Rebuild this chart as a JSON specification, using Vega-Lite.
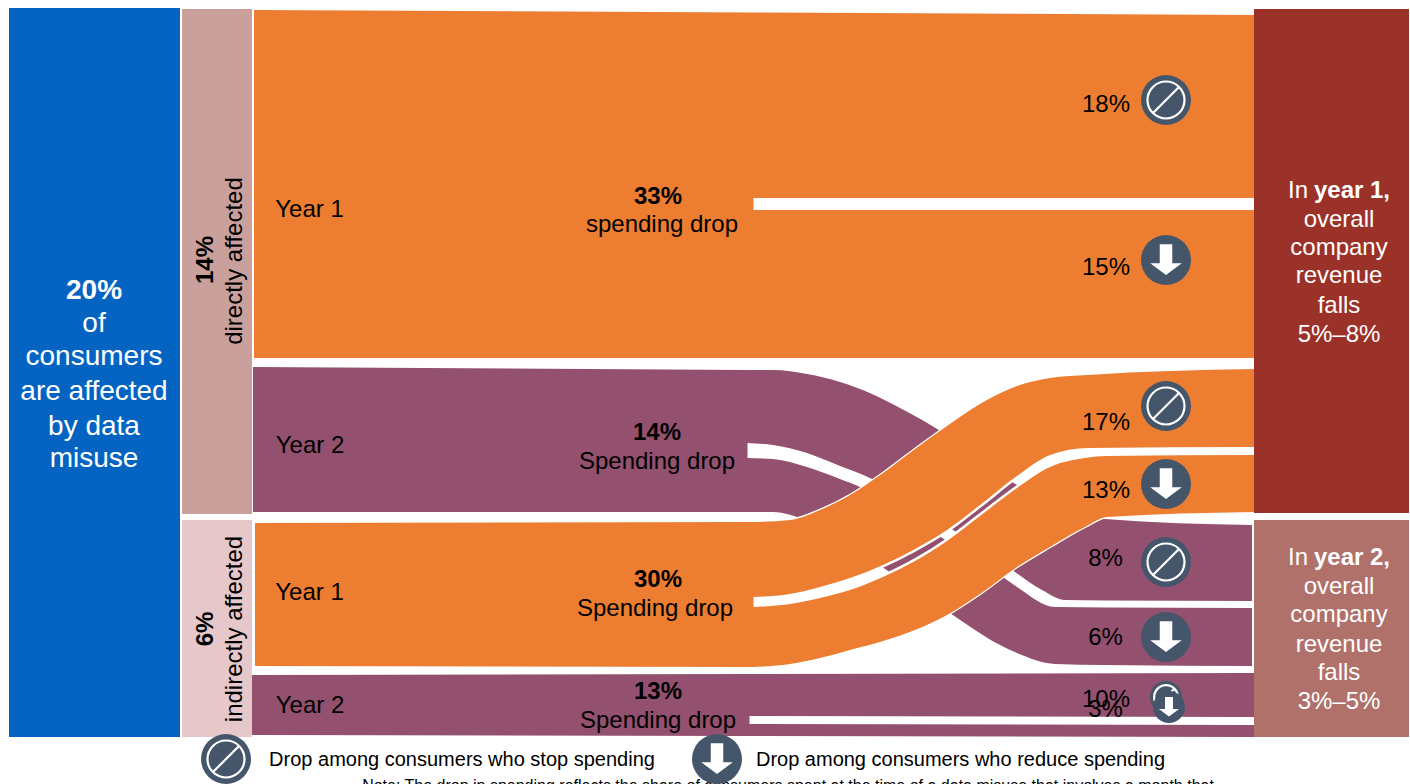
{
  "$schema": "https://vega.github.io/schema/vega-lite/v6.json",
  "width": 1410,
  "height": 784,
  "padding": 0,
  "autosize": {"type": "none"},
  "background": "white",
  "view": {"stroke": null},
  "datasets": {
    "nodes": [
      {"name": "All consumers", "x": 9, "x2": 180, "y": 8, "y2": 737},
      {"name": "Directly affected", "x": 182, "x2": 252, "y": 9, "y2": 514},
      {"name": "Indirectly affected", "x": 182, "x2": 252, "y": 520, "y2": 737},
      {"name": "Year 1 revenue", "x": 1254, "x2": 1409, "y": 9, "y2": 513},
      {"name": "Year 2 revenue", "x": 1254, "x2": 1409, "y": 520, "y2": 737}
    ],
    "flows": [
      {"band": "d1-stem", "year": "Year 1", "x": 254, "top": 10, "bottom": 358},
      {"band": "d1-stem", "year": "Year 1", "x": 753.5, "top": 12.5, "bottom": 358},
      {"band": "d1-stop", "year": "Year 1", "x": 753, "top": 12.5, "bottom": 198},
      {"band": "d1-stop", "year": "Year 1", "x": 1254, "top": 15, "bottom": 198},
      {"band": "d1-reduce", "year": "Year 1", "x": 753, "top": 210, "bottom": 358},
      {"band": "d1-reduce", "year": "Year 1", "x": 1254, "top": 210, "bottom": 358},

      {"band": "d2-stem", "year": "Year 2", "x": 253, "top": 367, "bottom": 512},
      {"band": "d2-stem", "year": "Year 2", "x": 747.5, "top": 370, "bottom": 512},
      {"band": "d2-stop", "year": "Year 2", "x": 747, "top": 370, "bottom": 443},
      {"band": "d2-stop", "year": "Year 2", "x": 773, "top": 370, "bottom": 445},
      {"band": "d2-stop", "year": "Year 2", "x": 807, "top": 374, "bottom": 453},
      {"band": "d2-stop", "year": "Year 2", "x": 840, "top": 382, "bottom": 466},
      {"band": "d2-stop", "year": "Year 2", "x": 872, "top": 394, "bottom": 479},
      {"band": "d2-stop", "year": "Year 2", "x": 900, "top": 408, "bottom": 497},
      {"band": "d2-stop", "year": "Year 2", "x": 947, "top": 435, "bottom": 526},
      {"band": "d2-stop", "year": "Year 2", "x": 980, "top": 458, "bottom": 548},
      {"band": "d2-stop", "year": "Year 2", "x": 1012, "top": 482, "bottom": 570},
      {"band": "d2-stop", "year": "Year 2", "x": 1042, "top": 498, "bottom": 590},
      {"band": "d2-stop", "year": "Year 2", "x": 1065, "top": 510, "bottom": 600},
      {"band": "d2-stop", "year": "Year 2", "x": 1105, "top": 519, "bottom": 600.5},
      {"band": "d2-stop", "year": "Year 2", "x": 1252, "top": 525, "bottom": 601},
      {"band": "d2-reduce", "year": "Year 2", "x": 747, "top": 458, "bottom": 512},
      {"band": "d2-reduce", "year": "Year 2", "x": 773, "top": 459, "bottom": 512},
      {"band": "d2-reduce", "year": "Year 2", "x": 807, "top": 467, "bottom": 521},
      {"band": "d2-reduce", "year": "Year 2", "x": 840, "top": 479, "bottom": 539},
      {"band": "d2-reduce", "year": "Year 2", "x": 860, "top": 487, "bottom": 552},
      {"band": "d2-reduce", "year": "Year 2", "x": 900, "top": 511, "bottom": 579},
      {"band": "d2-reduce", "year": "Year 2", "x": 947, "top": 541, "bottom": 611},
      {"band": "d2-reduce", "year": "Year 2", "x": 1000, "top": 575, "bottom": 645},
      {"band": "d2-reduce", "year": "Year 2", "x": 1017, "top": 587, "bottom": 653},
      {"band": "d2-reduce", "year": "Year 2", "x": 1055, "top": 607, "bottom": 664},
      {"band": "d2-reduce", "year": "Year 2", "x": 1105, "top": 607.5, "bottom": 665},
      {"band": "d2-reduce", "year": "Year 2", "x": 1252, "top": 608, "bottom": 666},

      {"band": "i1-stem", "year": "Year 1", "x": 255, "top": 523, "bottom": 666},
      {"band": "i1-stem", "year": "Year 1", "x": 753.5, "top": 522, "bottom": 667},
      {"band": "i1-stop", "year": "Year 1", "x": 753, "top": 522, "bottom": 597},
      {"band": "i1-stop", "year": "Year 1", "x": 790, "top": 520, "bottom": 594},
      {"band": "i1-stop", "year": "Year 1", "x": 820, "top": 510, "bottom": 587},
      {"band": "i1-stop", "year": "Year 1", "x": 850, "top": 495, "bottom": 578},
      {"band": "i1-stop", "year": "Year 1", "x": 883, "top": 473, "bottom": 565},
      {"band": "i1-stop", "year": "Year 1", "x": 915, "top": 449, "bottom": 549},
      {"band": "i1-stop", "year": "Year 1", "x": 947, "top": 426, "bottom": 530},
      {"band": "i1-stop", "year": "Year 1", "x": 980, "top": 404, "bottom": 505},
      {"band": "i1-stop", "year": "Year 1", "x": 1017, "top": 386, "bottom": 476},
      {"band": "i1-stop", "year": "Year 1", "x": 1050, "top": 378, "bottom": 455},
      {"band": "i1-stop", "year": "Year 1", "x": 1088, "top": 375, "bottom": 448},
      {"band": "i1-stop", "year": "Year 1", "x": 1254, "top": 369, "bottom": 447},
      {"band": "i1-reduce", "year": "Year 1", "x": 753, "top": 607, "bottom": 667},
      {"band": "i1-reduce", "year": "Year 1", "x": 790, "top": 604, "bottom": 664},
      {"band": "i1-reduce", "year": "Year 1", "x": 820, "top": 598, "bottom": 658},
      {"band": "i1-reduce", "year": "Year 1", "x": 850, "top": 590, "bottom": 650},
      {"band": "i1-reduce", "year": "Year 1", "x": 883, "top": 577, "bottom": 641},
      {"band": "i1-reduce", "year": "Year 1", "x": 915, "top": 561, "bottom": 630},
      {"band": "i1-reduce", "year": "Year 1", "x": 947, "top": 541, "bottom": 615},
      {"band": "i1-reduce", "year": "Year 1", "x": 980, "top": 516, "bottom": 594},
      {"band": "i1-reduce", "year": "Year 1", "x": 1017, "top": 488, "bottom": 567},
      {"band": "i1-reduce", "year": "Year 1", "x": 1050, "top": 467, "bottom": 547},
      {"band": "i1-reduce", "year": "Year 1", "x": 1085, "top": 458, "bottom": 527},
      {"band": "i1-reduce", "year": "Year 1", "x": 1107, "top": 456, "bottom": 517},
      {"band": "i1-reduce", "year": "Year 1", "x": 1254, "top": 455, "bottom": 512},

      {"band": "i2-stem", "year": "Year 2", "x": 252, "top": 675, "bottom": 735},
      {"band": "i2-stem", "year": "Year 2", "x": 749.5, "top": 674, "bottom": 736},
      {"band": "i2-stop", "year": "Year 2", "x": 749, "top": 674, "bottom": 716},
      {"band": "i2-stop", "year": "Year 2", "x": 1254, "top": 673, "bottom": 717},
      {"band": "i2-reduce", "year": "Year 2", "x": 749, "top": 724, "bottom": 736},
      {"band": "i2-reduce", "year": "Year 2", "x": 1254, "top": 725, "bottom": 737}
    ],
    "icons": [
      {"kind": "stop", "tier": "full", "x": 1166, "y": 100},
      {"kind": "reduce", "tier": "full", "x": 1166, "y": 260},
      {"kind": "stop", "tier": "full", "x": 1166, "y": 406},
      {"kind": "reduce", "tier": "full", "x": 1166, "y": 484},
      {"kind": "stop", "tier": "full", "x": 1166, "y": 562},
      {"kind": "reduce", "tier": "full", "x": 1166, "y": 637},
      {"kind": "stop", "tier": "small", "x": 1166, "y": 697},
      {"kind": "reduce", "tier": "small", "x": 1169, "y": 707},
      {"kind": "stop", "tier": "full", "x": 226, "y": 759},
      {"kind": "reduce", "tier": "full", "x": 717, "y": 759}
    ],
    "labels": [
      {"text": "20%", "role": "headline", "weight": "bold", "x": 94, "y": 299},
      {"text": "of", "role": "headline", "weight": "normal", "x": 94, "y": 332},
      {"text": "consumers", "role": "headline", "weight": "normal", "x": 94, "y": 365},
      {"text": "are affected", "role": "headline", "weight": "normal", "x": 94, "y": 400},
      {"text": "by data", "role": "headline", "weight": "normal", "x": 94, "y": 435},
      {"text": "misuse", "role": "headline", "weight": "normal", "x": 94, "y": 467},

      {"text": "14%", "role": "side", "weight": "bold", "x": 213, "y": 260},
      {"text": "directly affected", "role": "side", "weight": "normal", "x": 242, "y": 261},
      {"text": "6%", "role": "side", "weight": "bold", "x": 213, "y": 629},
      {"text": "indirectly affected", "role": "side", "weight": "normal", "x": 242, "y": 629},

      {"text": "Year 1", "role": "flow", "weight": "normal", "x": 309.5, "y": 217},
      {"text": "Year 2", "role": "flow", "weight": "normal", "x": 310, "y": 453},
      {"text": "Year 1", "role": "flow", "weight": "normal", "x": 309.5, "y": 600},
      {"text": "Year 2", "role": "flow", "weight": "normal", "x": 310, "y": 713},

      {"text": "33%", "role": "flow", "weight": "bold", "x": 658, "y": 204},
      {"text": "spending drop", "role": "flow", "weight": "normal", "x": 662, "y": 232},
      {"text": "14%", "role": "flow", "weight": "bold", "x": 657, "y": 440},
      {"text": "Spending drop", "role": "flow", "weight": "normal", "x": 657, "y": 469},
      {"text": "30%", "role": "flow", "weight": "bold", "x": 658, "y": 587},
      {"text": "Spending drop", "role": "flow", "weight": "normal", "x": 655, "y": 616},
      {"text": "13%", "role": "flow", "weight": "bold", "x": 658, "y": 699},
      {"text": "Spending drop", "role": "flow", "weight": "normal", "x": 658, "y": 728},

      {"text": "18%", "role": "flow", "weight": "normal", "x": 1106, "y": 112},
      {"text": "15%", "role": "flow", "weight": "normal", "x": 1106, "y": 275},
      {"text": "17%", "role": "flow", "weight": "normal", "x": 1106, "y": 430},
      {"text": "13%", "role": "flow", "weight": "normal", "x": 1106, "y": 498},
      {"text": "8%", "role": "flow", "weight": "normal", "x": 1105.5, "y": 566},
      {"text": "6%", "role": "flow", "weight": "normal", "x": 1105.5, "y": 645},
      {"text": "10%", "role": "flow", "weight": "normal", "x": 1106, "y": 707},
      {"text": "3%", "role": "flow", "weight": "normal", "x": 1105.5, "y": 717},

      {"text": "In", "role": "node", "weight": "normal", "x": 1298, "y": 198},
      {"text": "year 1,", "role": "node", "weight": "bold", "x": 1352, "y": 198},
      {"text": "overall", "role": "node", "weight": "normal", "x": 1339, "y": 227},
      {"text": "company", "role": "node", "weight": "normal", "x": 1339, "y": 255},
      {"text": "revenue", "role": "node", "weight": "normal", "x": 1339, "y": 283},
      {"text": "falls", "role": "node", "weight": "normal", "x": 1339, "y": 313},
      {"text": "5%–8%", "role": "node", "weight": "normal", "x": 1339, "y": 342},

      {"text": "In", "role": "node", "weight": "normal", "x": 1298, "y": 565},
      {"text": "year 2,", "role": "node", "weight": "bold", "x": 1352, "y": 565},
      {"text": "overall", "role": "node", "weight": "normal", "x": 1339, "y": 594},
      {"text": "company", "role": "node", "weight": "normal", "x": 1339, "y": 622},
      {"text": "revenue", "role": "node", "weight": "normal", "x": 1339, "y": 652},
      {"text": "falls", "role": "node", "weight": "normal", "x": 1339, "y": 680},
      {"text": "3%–5%", "role": "node", "weight": "normal", "x": 1339, "y": 709},

      {"text": "Drop among consumers who stop spending", "role": "legend", "weight": "normal", "x": 462, "y": 766},
      {"text": "Drop among consumers who reduce spending", "role": "legend", "weight": "normal", "x": 960.5, "y": 766},
      {"text": "Note: The drop in spending reflects the share of consumers spent at the time of a data misuse that involves a month that", "role": "note", "weight": "normal", "x": 788, "y": 791}
    ]
  },
  "encoding": {
    "x": {"field": "x", "type": "quantitative", "axis": null, "scale": {"domain": [0, 1410], "nice": false, "zero": false}}
  },
  "layer": [
    {
      "data": {"name": "flows"},
      "transform": [{"filter": "datum.year === 'Year 2'"}],
      "mark": {"type": "area", "orient": "vertical", "interpolate": "monotone", "color": "#93506F", "opacity": 1},
      "encoding": {
        "y": {"field": "top", "type": "quantitative", "axis": null, "scale": {"domain": [784, 0], "nice": false, "zero": false}},
        "y2": {"field": "bottom"},
        "detail": {"field": "band"}
      }
    },
    {
      "data": {"name": "flows"},
      "transform": [{"filter": "datum.band === 'i1-stop'"}],
      "mark": {"type": "line", "interpolate": "monotone", "color": "white", "strokeWidth": 5},
      "encoding": {"y": {"field": "bottom", "type": "quantitative"}}
    },
    {
      "data": {"name": "flows"},
      "transform": [{"filter": "datum.band === 'i1-reduce'"}],
      "mark": {"type": "line", "interpolate": "monotone", "color": "white", "strokeWidth": 5},
      "encoding": {"y": {"field": "top", "type": "quantitative"}}
    },
    {
      "data": {"name": "flows"},
      "transform": [{"filter": "datum.band === 'i1-stop'"}],
      "mark": {"type": "line", "interpolate": "monotone", "color": "white", "strokeWidth": 2.5},
      "encoding": {"y": {"field": "top", "type": "quantitative"}}
    },
    {
      "data": {"name": "flows"},
      "transform": [{"filter": "datum.band === 'i1-reduce'"}],
      "mark": {"type": "line", "interpolate": "monotone", "color": "white", "strokeWidth": 2.5},
      "encoding": {"y": {"field": "bottom", "type": "quantitative"}}
    },
    {
      "data": {"name": "flows"},
      "transform": [{"filter": "datum.year === 'Year 1'"}],
      "mark": {"type": "area", "orient": "vertical", "interpolate": "monotone", "color": "#ED7D31", "opacity": 1},
      "encoding": {
        "y": {"field": "top", "type": "quantitative"},
        "y2": {"field": "bottom"},
        "detail": {"field": "band"}
      }
    },
    {
      "data": {"name": "nodes"},
      "mark": {"type": "rect"},
      "encoding": {
        "x2": {"field": "x2"},
        "y": {"field": "y", "type": "quantitative"},
        "y2": {"field": "y2"},
        "color": {
          "field": "name",
          "type": "nominal",
          "legend": null,
          "scale": {
            "domain": ["All consumers", "Directly affected", "Indirectly affected", "Year 1 revenue", "Year 2 revenue"],
            "range": ["#0563C1", "#CAA09C", "#E6C8CA", "#9B3229", "#B0716B"]
          }
        }
      }
    },
    {
      "data": {"name": "labels"},
      "transform": [{"filter": "datum.role === 'note'"}],
      "mark": {"type": "text", "font": "Liberation Sans", "fontSize": 16, "color": "black", "baseline": "alphabetic"},
      "encoding": {"y": {"field": "y", "type": "quantitative"}, "text": {"field": "text"}}
    },
    {
      "data": {"name": "icons"},
      "transform": [{"filter": "datum.kind === 'stop'"}],
      "mark": {"type": "point", "shape": "circle", "filled": true, "color": "#45566B", "opacity": 1, "strokeWidth": 0},
      "encoding": {
        "y": {"field": "y", "type": "quantitative"},
        "size": {"field": "tier", "type": "nominal", "legend": null, "scale": {"type": "ordinal", "domain": ["full", "small"], "range": [2500, 1024]}}
      }
    },
    {
      "data": {"name": "icons"},
      "transform": [{"filter": "datum.kind === 'stop'"}],
      "mark": {
        "type": "point",
        "shape": "M-0.74,0A0.74,0.74 0 1 1 0.74,0A0.74,0.74 0 1 1 -0.74,0ZM-0.52,0.52L0.52,-0.52",
        "filled": false,
        "stroke": "white",
        "strokeWidth": 2.2,
        "opacity": 1
      },
      "encoding": {
        "y": {"field": "y", "type": "quantitative"},
        "size": {"field": "tier", "type": "nominal", "legend": null, "scale": {"type": "ordinal", "domain": ["full", "small"], "range": [2500, 1024]}}
      }
    },
    {
      "data": {"name": "icons"},
      "transform": [{"filter": "datum.kind === 'reduce'"}],
      "mark": {"type": "point", "shape": "circle", "filled": true, "color": "#45566B", "opacity": 1, "strokeWidth": 0},
      "encoding": {
        "y": {"field": "y", "type": "quantitative"},
        "size": {"field": "tier", "type": "nominal", "legend": null, "scale": {"type": "ordinal", "domain": ["full", "small"], "range": [2500, 1024]}}
      }
    },
    {
      "data": {"name": "icons"},
      "transform": [{"filter": "datum.kind === 'reduce'"}],
      "mark": {
        "type": "point",
        "shape": "M-0.25,-0.63L0.25,-0.63L0.25,0.13L0.63,0.13L0,0.6L-0.63,0.13L-0.25,0.13Z",
        "filled": true,
        "color": "white",
        "opacity": 1,
        "strokeWidth": 0
      },
      "encoding": {
        "y": {"field": "y", "type": "quantitative"},
        "size": {"field": "tier", "type": "nominal", "legend": null, "scale": {"type": "ordinal", "domain": ["full", "small"], "range": [2500, 1024]}}
      }
    },
    {
      "data": {"name": "labels"},
      "transform": [{"filter": "datum.role !== 'side' && datum.role !== 'note' && datum.weight === 'normal'"}],
      "mark": {"type": "text", "font": "Liberation Sans", "baseline": "alphabetic"},
      "encoding": {
        "y": {"field": "y", "type": "quantitative"},
        "text": {"field": "text"},
        "size": {"field": "role", "type": "nominal", "legend": null, "scale": {"type": "ordinal", "domain": ["headline", "flow", "node", "legend"], "range": [28, 24, 24, 20]}},
        "color": {"field": "role", "type": "nominal", "legend": null, "scale": {"domain": ["headline", "flow", "node", "legend"], "range": ["white", "black", "white", "black"]}}
      }
    },
    {
      "data": {"name": "labels"},
      "transform": [{"filter": "datum.role !== 'side' && datum.weight === 'bold'"}],
      "mark": {"type": "text", "font": "Liberation Sans", "fontWeight": "bold", "baseline": "alphabetic"},
      "encoding": {
        "y": {"field": "y", "type": "quantitative"},
        "text": {"field": "text"},
        "size": {"field": "role", "type": "nominal", "legend": null, "scale": {"type": "ordinal", "domain": ["headline", "flow", "node", "legend"], "range": [28, 24, 24, 20]}},
        "color": {"field": "role", "type": "nominal", "legend": null, "scale": {"domain": ["headline", "flow", "node", "legend"], "range": ["white", "black", "white", "black"]}}
      }
    },
    {
      "data": {"name": "labels"},
      "transform": [{"filter": "datum.role === 'side' && datum.weight === 'normal'"}],
      "mark": {"type": "text", "font": "Liberation Sans", "fontSize": 24, "angle": 270, "color": "black", "baseline": "alphabetic"},
      "encoding": {"y": {"field": "y", "type": "quantitative"}, "text": {"field": "text"}}
    },
    {
      "data": {"name": "labels"},
      "transform": [{"filter": "datum.role === 'side' && datum.weight === 'bold'"}],
      "mark": {"type": "text", "font": "Liberation Sans", "fontWeight": "bold", "fontSize": 24, "angle": 270, "color": "black", "baseline": "alphabetic"},
      "encoding": {"y": {"field": "y", "type": "quantitative"}, "text": {"field": "text"}}
    }
  ],
  "resolve": {"scale": {"color": "independent", "size": "independent"}}
}
